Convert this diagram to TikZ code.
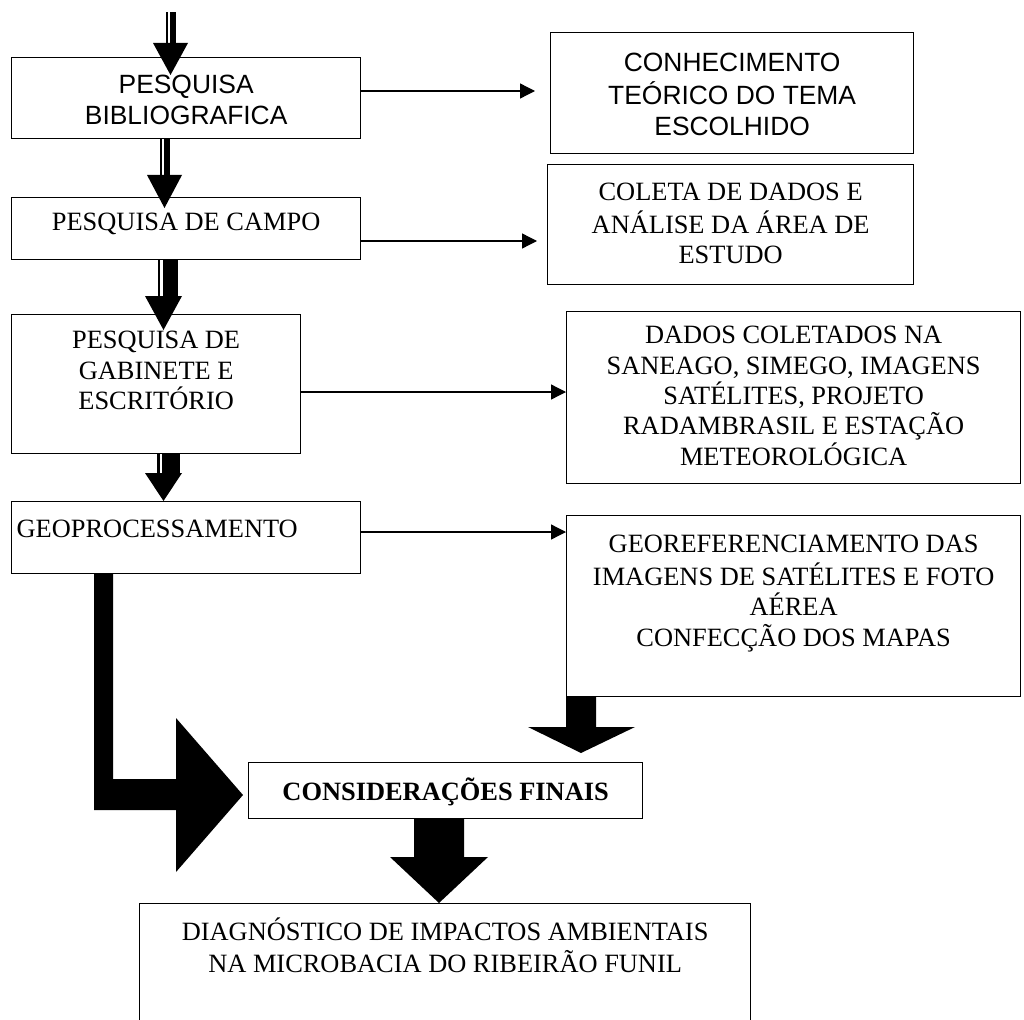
\documentclass[tikz,border=0pt]{standalone}
\usepackage{fontspec}
\setmainfont{Liberation Serif}
\newfontfamily\arialfont{Liberation Sans}
\usetikzlibrary{arrows.meta,positioning}

\tikzset{
  stage/.style={draw, line width=1.3pt, inner sep=0pt, anchor=north west, font=\fontsize{26.4}{30.4}\selectfont},
  link/.style={line width=1.3pt, -{Triangle[length=15pt,width=15pt]}},
}
% box of given width/height, text set from the top
\newcommand{\stagetext}[4]{\parbox[t][#2][t]{#1}{\centering\vspace*{#3}\strut#4}}

\begin{document}
\begin{tikzpicture}[x=1pt, y=-1pt]
    \useasboundingbox (0,0) rectangle (1024,1019);

    % left column
    \node[stage] (bib) at (11,57) {\stagetext{349pt}{81pt}{14.7pt}{\arialfont PESQUISA\\BIBLIOGRAFICA}};
    \node[stage] (campo) at (11,197) {\stagetext{349pt}{62pt}{11.7pt}{PESQUISA DE CAMPO}};
    \node[stage] (gab) at (11,314) {\stagetext{289pt}{139pt}{12.7pt}{PESQUISA DE\\GABINETE E\\ESCRITÓRIO}};
    \node[stage] (geo) at (11,501) {\parbox[t][72pt][t]{349pt}{\vspace*{14.7pt}\strut\hspace*{5pt}GEOPROCESSAMENTO}};

    % right column
    \node[stage] (conh) at (550,32) {\stagetext{363pt}{121pt}{17.7pt}{\arialfont CONHECIMENTO\\TEÓRICO DO TEMA\\ESCOLHIDO}};
    \node[stage] (coleta) at (547,164) {\stagetext{366pt}{120pt}{14.7pt}{COLETA DE DADOS E\\ANÁLISE DA ÁREA DE\\ESTUDO}};
    \node[stage] (dados) at (566,311) {\stagetext{454pt}{172pt}{10.7pt}{DADOS COLETADOS NA\\SANEAGO, SIMEGO, IMAGENS\\SATÉLITES, PROJETO\\RADAMBRASIL E ESTAÇÃO\\METEOROLÓGICA}};
    \node[stage] (georef) at (566,515) {\stagetext{454pt}{181pt}{15.7pt}{GEOREFERENCIAMENTO DAS\\IMAGENS DE SATÉLITES E FOTO\\AÉREA\\CONFECÇÃO DOS MAPAS}};

    % bottom
    \node[stage] (cons) at (248,762) {\stagetext{394pt}{56pt}{14.7pt}{\bfseries CONSIDERAÇÕES FINAIS}};
    \node[stage] (diag) at (139,903) {\stagetext{611pt}{160pt}{13.7pt}{DIAGNÓSTICO DE IMPACTOS AMBIENTAIS\\NA MICROBACIA DO RIBEIRÃO FUNIL}};

    % thin connectors
    \coordinate (r1) at (0,91);
    \coordinate (r2) at (0,241);
    \coordinate (r3) at (0,392);
    \coordinate (r4) at (0,532);
    \draw[link, shorten >=15pt] (bib.east |- r1) -- (conh.west |- r1);
    \draw[link, shorten >=10pt] (campo.east |- r2) -- (coleta.west |- r2);
    \draw[link] (gab.east |- r3) -- (dados.west |- r3);
    \draw[link] (geo.east |- r4) -- (georef.west |- r4);

    % striped down arrows
    \fill (166,12) rectangle (167.5,43);
    \fill (170,12) rectangle (176,43);
    \fill (153,43) -- (188,43) -- (170.5,75) -- cycle;

    \fill (160,138) rectangle (161.5,175);
    \fill (163.5,138) rectangle (170,175);
    \fill (147,175) -- (182,175) -- (164.5,208) -- cycle;

    \fill (158,259) rectangle (160,296);
    \fill (163,259) rectangle (178,296);
    \fill (145,296) -- (182,296) -- (163.5,330) -- cycle;

    \fill (157,453) rectangle (160,473);
    \fill (162,453) rectangle (180,473);
    \fill (145,473) -- (182,473) -- (163.5,501) -- cycle;

    % block arrows
    \fill (94,573) -- (113,573) -- (113,779) -- (176,779) -- (176,718) -- (243,795)
          -- (176,872) -- (176,810) -- (94,810) -- cycle;
    \fill (566,696) -- (596,696) -- (596,727) -- (635,727) -- (581,753)
          -- (528,727) -- (566,727) -- cycle;
    \fill (414,818) -- (464,818) -- (464,857) -- (488,857) -- (439,903)
          -- (390,857) -- (414,857) -- cycle;
\end{tikzpicture}
\end{document}
